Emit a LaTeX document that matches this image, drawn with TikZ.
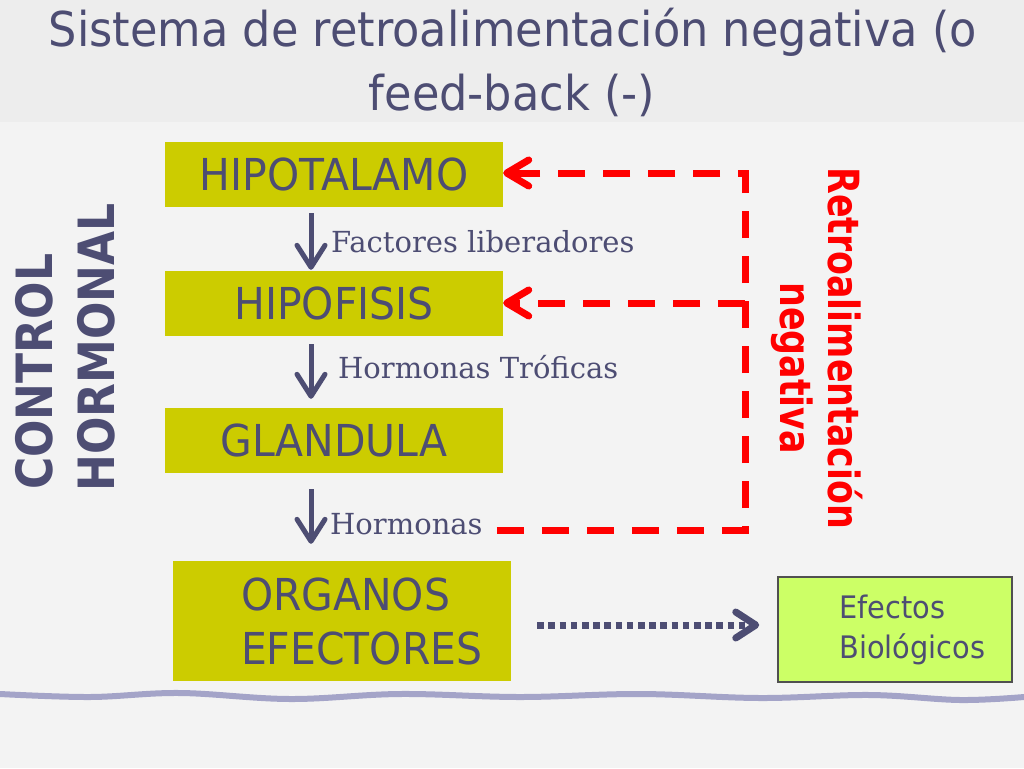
\documentclass[tikz,border=0pt]{standalone}
\usepackage{fontspec}
\usetikzlibrary{arrows.meta}
\newfontfamily\sansN[FakeStretch=0.93]{DejaVu Sans}
\newfontfamily\sansB[FakeStretch=0.88]{DejaVu Sans Bold}
\newfontfamily\redB[FakeStretch=0.81]{DejaVu Sans Bold}
\newfontfamily\serifN{DejaVu Serif}
\definecolor{ink}{HTML}{4D4D73}
\definecolor{boxolive}{HTML}{CCCC00}
\definecolor{fbred}{HTML}{FF0000}
\definecolor{efgreen}{HTML}{CCFF66}
\definecolor{effborder}{HTML}{505050}
\definecolor{wavecol}{HTML}{A4A4C8}
\definecolor{band}{HTML}{EDEDED}
\definecolor{paper}{HTML}{F3F3F3}
\tikzset{
  stagebox/.style={fill=boxolive, minimum width=338pt, minimum height=65pt, inner sep=0pt,
    text=ink, font=\sansN\fontsize{44}{53}\selectfont},
  downarrow/.style={draw=ink, line width=5pt, -{Straight Barb[length=22pt,width=28pt,round]}},
  fbline/.style={draw=fbred, line width=7pt, dash pattern=on 27pt off 18pt,
    -{Straight Barb[length=22pt,width=26pt,round]}},
  dotarrow/.style={draw=ink, line width=7pt, dash pattern=on 6.5pt off 4.7pt,
    -{Straight Barb[length=20pt,width=26pt,round]}},
  lbl/.style={text=ink, font=\serifN\fontsize{29}{35}\selectfont, inner sep=0pt, anchor=base west},
  titletxt/.style={text=ink, font=\sansN\fontsize{48}{63}\selectfont, inner sep=0pt, anchor=base},
  redtxt/.style={text=fbred, font=\redB\fontsize{43}{50}\selectfont, inner sep=0pt, rotate=-90, anchor=base west},
  sidetxt/.style={text=ink, font=\sansB\fontsize{50}{60}\selectfont, inner sep=0pt, rotate=90, anchor=base west}
}
\begin{document}
\begin{tikzpicture}[x=1pt,y=-1pt]
\fill[paper] (0,0) rectangle (1024,768);
\fill[band] (0,0) rectangle (1024,122);
\useasboundingbox (0,0) rectangle (1024,768);

% bottom wavy rule
\draw[wavecol, line width=6pt, line cap=round] plot[smooth, tension=0.6] coordinates
  {(0,694) (90,697) (180,693) (290,699) (400,694) (520,697) (640,694) (760,698) (870,695) (960,700) (1024,697)};

% title
\node[titletxt] (t1) at (513,47) {Sistema de retroalimentación negativa (o};
\node[titletxt] (t2) at (512,110) {feed-back (-)};

% side labels
\node[sidetxt] (ctrl) at (52,490) {CONTROL};
\node[sidetxt] (horm) at (114,492) {HORMONAL};
\node[redtxt] (retro1) at (828,167) {Retroalimentación};
\node[redtxt] (retro2) at (780,282) {negativa};

% stages
\node[stagebox] (hipot) at (334,174.5) {HIPOTALAMO};
\node[stagebox] (hipof) at (334,303.5) {HIPOFISIS};
\node[stagebox] (glan) at (334,440) {GLANDULA};
\node[stagebox, minimum height=120pt] (org) at (342,621) {};
\node[anchor=west, align=left, inner sep=0pt, text=ink, font=\sansN\fontsize{44}{54}\selectfont]
  (orgtxt) at ([xshift=68pt]org.west) {ORGANOS\\EFECTORES};
\node[draw=effborder, line width=1.5pt, fill=efgreen, minimum width=234pt, minimum height=105pt, inner sep=0pt]
  (eff) at (895,629.5) {};
\node[anchor=west, align=left, inner sep=0pt, text=ink, font=\sansN\fontsize{31}{40}\selectfont]
  (efftxt) at ([xshift=62pt]eff.west) {Efectos\\Biológicos};

% down arrows
\coordinate (ax) at (311,0);
\draw[downarrow, shorten <=6pt, shorten >=1pt] (hipot.south -| ax) -- (hipof.north -| ax);
\draw[downarrow, shorten <=8pt, shorten >=8.5pt] (hipof.south -| ax) -- (glan.north -| ax);
\draw[downarrow, shorten <=16.5pt, shorten >=17pt] (glan.south -| ax) -- (org.north -| ax);

% arrow labels
\node[lbl] (l1) at (331,252) {Factores liberadores};
\node[lbl] (l2) at (338,378) {Hormonas Tróficas};
\node[lbl] (l3) at (330,534) {Hormonas};

% negative feedback
\coordinate (cb) at (745,530);
\coordinate (ct) at (745,173);
\coordinate (cm) at (745,303);
\draw[fbline, shorten <=14pt] (l3.east |- cb) -- (cb) -- (ct) -- (hipot.east |- ct);
\draw[fbline] (cm) -- (hipof.east |- cm);

% dotted arrow to effects
\coordinate (dl) at (0,625);
\draw[dotarrow, shorten <=26pt, shorten >=18pt] (org.east |- dl) -- (eff.west |- dl);
\end{tikzpicture}
\end{document}
